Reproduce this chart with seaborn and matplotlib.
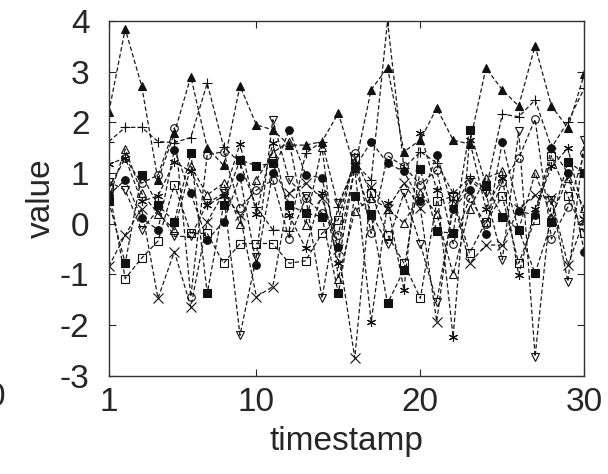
import numpy as np
import pandas as pd
import matplotlib
matplotlib.use("Agg")
import matplotlib.pyplot as plt
import seaborn as sns

# DATA

timestamps = list(range(1, 31))

tri_up_filled = [2.2, 3.84, 2.72, 0.86, 1.79, 2.9, 1.5, 1.15, 2.72, 1.95,
                 1.85, 1.55, 1.55, 1.62, 2.18, 1.1, 2.64, 3.08, 1.42, 1.65,
                 2.28, 1.65, 1.57, 3.07, 2.64, 2.32, 3.51, 2.32, 1.89, 2.95]
plus = [1.62, 1.9, 1.9, 1.62, 1.6, 1.7, 2.77, 1.52, 1.2, 0.33,
        -0.12, -0.15, 1.39, 1.62, 0.33, 1.2, 0.86, 4.0, 1.1, 1.42,
        1.2, 0.6, 0.9, 0.67, 2.16, 2.11, 2.44, 1.5, 2.01, 2.67]
circle_filled = [0.57, 0.86, 0.11, -0.12, 1.46, 0.6, -0.32, 0.04, 0.93, -0.81,
                 1.0, 1.85, 0.97, 0.9, -0.45, 1.1, 1.62, 1.19, 1.03, 0.44,
                 1.36, 0.3, 0.67, -0.2, 1.62, 0.25, 0.17, 1.49, 1.0, -0.55]
square_filled = [0.44, -0.78, 0.96, 0.37, 0.04, 1.39, -1.37, 0.37, 1.26, 1.14,
                 1.19, 0.37, 0.21, 0.14, -1.37, 0.54, 0.17, -1.57, -0.91, 1.07,
                 -0.15, -0.19, 1.85, 0.77, 0.14, -0.12, -0.98, 0.04, 1.22, 1.0]
square_open = [0.7, -1.08, -0.68, -0.34, 0.77, -0.19, -0.19, -0.78, -0.39, -0.39,
               -0.39, -0.78, -0.73, -0.19, 0.08, 1.3, 0.6, -0.22, -0.78, -1.47,
               0.44, 0.54, -0.58, 0.04, 0.54, -0.78, 0.08, 1.34, 0.54, -0.19]
circle_open = [0.7, 1.29, 0.8, 0.96, 1.89, -1.44, 1.36, 1.42, 0.31, 0.66,
               0.86, -0.3, 0.5, 0.21, -0.22, 1.39, -0.19, 1.34, 1.13, 0.77,
               1.06, -0.39, 0.5, 0.0, 0.83, 1.29, 2.06, -0.3, 0.33, 1.39]
tri_up_open = [0.5, 1.47, 0.6, 0.2, -0.12, 1.13, 0.57, 0.8, 0.0, 0.86,
               1.4, 1.62, -0.02, 1.52, -1.08, 0.25, 0.5, 0.3, 0.01, 0.6,
               0.2, -1.0, 0.3, 0.9, 1.03, -0.12, 1.0, 0.14, 0.9, 0.31]
tri_down_open = [0.83, 0.66, -0.12, 0.27, -0.25, -0.25, 0.4, 0.6, -2.2, -0.65,
                 2.05, 0.86, 0.54, -1.47, 0.4, 1.1, 0.2, -0.39, 0.6, -0.4,
                 -1.54, 0.3, 0.86, 0.6, -0.71, 1.82, -2.62, 0.47, -1.14, 1.65]
cross = [-0.84, -0.22, 0.3, -1.47, -0.55, -1.64, 0.04, 0.6, 0.17, -1.44,
         -1.24, 0.6, 0.8, 0.5, -0.5, -2.65, 0.73, 0.3, 0.8, 0.31,
         -1.93, 0.5, -0.78, -0.42, -0.42, 0.3, 0.57, 0.5, -0.81, 0.08]
star = [1.17, 1.3, 0.44, 0.55, 1.22, 1.03, 0.37, 0.54, 1.58, 0.2,
        1.59, 0.17, -0.48, 0.6, -0.78, 1.1, -1.93, 0.4, -1.3, 1.79,
        0.67, -2.23, 1.65, 0.3, 0.9, -1.01, 0.3, 1.13, 1.49, 0.1]

series = [
    (plus, "+", True),
    (cross, "x", True),
    (star, (6, 2, 0), True),
    (square_open, "s", False),
    (square_filled, "s", True),
    (circle_open, "o", False),
    (circle_filled, "o", True),
    (tri_up_open, "^", False),
    (tri_up_filled, "^", True),
    (tri_down_open, "v", False),
]

# STYLE

sns.set_style("ticks")
plt.rcParams["font.family"] = ["Liberation Sans", "DejaVu Sans"]
plt.rcParams["axes.unicode_minus"] = False

fig = plt.figure(figsize=(6.08, 4.74), dpi=100)
ax = fig.add_axes([0.179, 0.207, 0.782, 0.749])

for vals, mk, filled in series:
    sns.lineplot(x=timestamps, y=vals, ax=ax, color="#1a1a1a",
                 linestyle=(0, (3.5, 2)), linewidth=0.9,
                 marker=mk, markersize=6.5 if mk in ("+", "x", (6, 2, 0)) else 5.5,
                 markerfacecolor="#111111" if filled else "none",
                 markeredgecolor="#111111", markeredgewidth=0.8)

ax.set_xlim(1, 30)
ax.set_ylim(-3, 4)
ax.set_xticks([1, 10, 20, 30])
ax.set_yticks(range(-3, 5))
ax.tick_params(direction="in", top=True, right=True, labelsize=24,
               length=5, width=0.8)
ax.tick_params(axis="x", pad=8)
ax.tick_params(axis="y", pad=14)
for s in ax.spines.values():
    s.set_linewidth(1.0)
    s.set_color("#333333")
ax.set_xlabel("timestamp", fontsize=24, labelpad=6)
ax.set_ylabel("value", fontsize=24, labelpad=2)

# clipped label of the neighbouring panel at the left edge
fig.text(0.009, 0.162, "0", fontsize=24, ha="right", va="center")

fig.savefig("out.png", dpi=100)
